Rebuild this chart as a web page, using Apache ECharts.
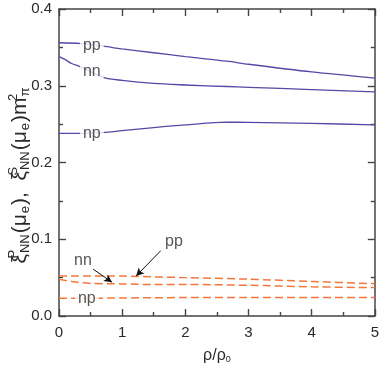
<!DOCTYPE html>
<html>
<head>
<meta charset="utf-8">
<script src="https://cdn.jsdelivr.net/npm/echarts@6/dist/echarts.min.js"></script>
<style>
  html, body { margin: 0; padding: 0; background: #fff; }
  #chart { width: 382px; height: 369px; }
</style>
</head>
<body>
<div id="chart"></div>
<script>
// 紫色实线 (上半部分)
const rhoPurple = [0, 0.35, 0.7, 1, 1.5, 2, 2.66, 3, 4, 5];
const ppPurple = [0.356, 0.355, 0.3515, 0.348, 0.343, 0.338, 0.332, 0.328, 0.318, 0.310];
const npPurple = [0.238, 0.238, 0.239, 0.2415, 0.2455, 0.249, 0.2525, 0.2523, 0.251, 0.249];
const rhoNN = [0, 0.1, 0.2, 0.33, 0.7, 1, 1.5, 2, 2.66, 3, 4, 5];
const nnPurple = [0.338, 0.334, 0.329, 0.325, 0.311, 0.307, 0.303, 0.301, 0.299, 0.298, 0.295, 0.292];

// 橙色虚线 (下半部分)
const rhoOrange = [0, 0.2, 0.5, 0.8, 1, 1.5, 2, 3, 4, 5];
const ppOrange = [0.052, 0.052, 0.052, 0.052, 0.052, 0.051, 0.050, 0.048, 0.045, 0.042];
const nnOrange = [0.048, 0.045, 0.0425, 0.042, 0.0418, 0.041, 0.041, 0.040, 0.038, 0.037];
const npOrange = [0.023, 0.023, 0.023, 0.0233, 0.0235, 0.0238, 0.024, 0.024, 0.024, 0.024];

// 曲线标注
const curveLabels = [
  { name: 'pp', value: [0.52, 0.352] },
  { name: 'nn', value: [0.52, 0.319] },
  { name: 'np', value: [0.52, 0.238] },
  { name: 'nn', value: [0.38, 0.072], noBg: true },
  { name: 'pp', value: [1.82, 0.0975], noBg: true },
  { name: 'np', value: [0.44, 0.023] }
];
// 箭头
const arrows = [
  [[0.54, 0.061], [0.84, 0.044]],
  [[1.61, 0.085], [1.22, 0.052]]
];

const xTicks = { min: 0, max: 5, interval: 1 };
const yTicks = { min: 0, max: 0.4, interval: 0.1 };

const PURPLE = '#5a46a6';
const ORANGE = '#f2773a';
const AXIS = '#444';
const TEXT = '#2a2a2a';
const FONT = 'Liberation Sans, Arial, sans-serif';

const zip = (xs, ys) => xs.map((x, i) => [x, ys[i]]);

// 每个轴都生成新的配置对象
function makeAxis(range, extra) {
  return Object.assign({
    type: 'value',
    min: range.min,
    max: range.max,
    interval: range.interval,
    axisLine: { show: true, onZero: false, lineStyle: { color: AXIS, width: 1.5 } },
    axisTick: { show: true, inside: true, length: 7, lineStyle: { color: AXIS, width: 1.4 } },
    minorTick: { show: true, splitNumber: 2, length: 4, lineStyle: { color: AXIS, width: 1.4 } },
    splitLine: { show: false },
    minorSplitLine: { show: false }
  }, extra);
}

const chart = echarts.init(document.getElementById('chart'));

const solid = (name, data) => ({
  name, type: 'line', data, showSymbol: false, smooth: 0.3, z: 2,
  lineStyle: { color: PURPLE, width: 1.3 }
});
const dashed = (name, data) => ({
  name, type: 'line', data, showSymbol: false, smooth: 0.3, z: 2,
  lineStyle: { color: ORANGE, width: 1.5, type: [8, 4] }
});

const option = {
  animation: false,
  backgroundColor: '#fff',
  grid: { left: 59, right: 7, top: 9, bottom: 44 },
  xAxis: [
    makeAxis(xTicks, {
      position: 'bottom',
      axisLabel: { color: TEXT, fontSize: 15, fontFamily: FONT, margin: 9 },
      name: '{a|ρ/ρ}{s|0}',
      nameLocation: 'middle',
      nameGap: 31,
      nameTextStyle: {
        rich: {
          a: { fontSize: 16, fontFamily: FONT, color: TEXT },
          s: { fontSize: 9, fontFamily: FONT, color: TEXT, padding: [8, 0, 0, 0] }
        }
      }
    }),
    makeAxis(xTicks, { position: 'top', axisLabel: { show: false } })
  ],
  yAxis: [
    makeAxis(yTicks, {
      position: 'left',
      axisLabel: { color: TEXT, fontSize: 15, fontFamily: FONT, margin: 7, formatter: v => v.toFixed(1) }
    }),
    makeAxis(yTicks, { position: 'right', axisLabel: { show: false } })
  ],
  graphic: [{
    type: 'text',
    x: 20, y: 175,
    rotation: Math.PI / 2,
    style: {
      text: '{m|ξ}{u|P}{d|NN}{m|(μ}{d|e}{m|),  ξ}{u|S}{d|NN}{m|(μ}{d|e}{m|)m}{u|2}{d|π}',
      align: 'center',
      verticalAlign: 'middle',
      fill: TEXT,
      rich: {
        m: { fontSize: 21, fontFamily: FONT, fill: TEXT },
        u: { fontSize: 13, fontFamily: FONT, fill: TEXT, width: 0, padding: [0, 0, 13, 0] },
        d: { fontSize: 13, fontFamily: FONT, fill: TEXT, padding: [10, 1, 0, 1] }
      }
    }
  }],
  series: [
    solid('pp', zip(rhoPurple, ppPurple)),
    solid('nn', zip(rhoNN, nnPurple)),
    solid('np', zip(rhoPurple, npPurple)),
    dashed('pp*', zip(rhoOrange, ppOrange)),
    dashed('nn*', zip(rhoOrange, nnOrange)),
    dashed('np*', zip(rhoOrange, npOrange)),
    {
      name: 'labels',
      type: 'scatter',
      symbolSize: 0,
      z: 5,
      silent: true,
      data: curveLabels.map(d => ({
        value: d.value,
        label: {
          show: true,
          position: 'inside',
          formatter: d.name,
          color: TEXT,
          fontSize: 16,
          fontFamily: FONT,
          backgroundColor: d.noBg ? 'transparent' : '#fff',
          padding: [0, 3]
        }
      })),
      markLine: {
        silent: true,
        symbol: ['none', 'arrow'],
        symbolSize: [6, 8],
        label: { show: false },
        lineStyle: { color: '#111', width: 1, type: 'solid' },
        data: arrows.map(a => [{ coord: a[0] }, { coord: a[1] }])
      }
    }
  ]
};

chart.setOption(option);
</script>
</body>
</html>
